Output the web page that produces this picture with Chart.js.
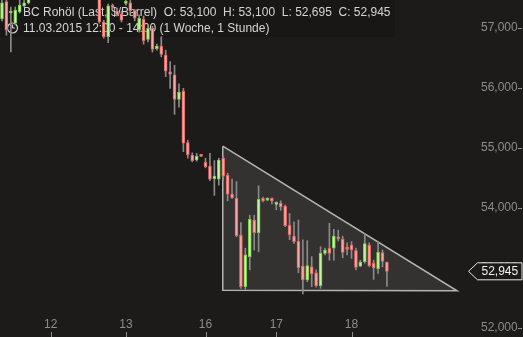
<!DOCTYPE html>
<html lang="de">
<head>
<meta charset="UTF-8">
<title>BC Rohöl Stundenchart</title>
<script src="https://cdn.jsdelivr.net/npm/chart.js"></script>
<style type="text/css">
html, body {
  margin: 0;
  padding: 0;
  background-color: #1c1b1a;
}
#wrap {
  width: 523px;
  height: 337px;
}
</style>
</head>
<body>
<div id="wrap"><canvas id="chart" width="523" height="337"></canvas></div>
<script>
// hourly candles, index 0 = leftmost visible candle (7..21 lie above the visible range)
const opens = [57.15, 57.44, 57.25, 57.08, 57.27, 57.37, 57.42,
  null, null, null, null, null, null, null, null, null, null, null, null, null, null, null,
  57.55, 57.10, 56.855, 57.37, 57.28, 57.23, 57.41, 57.42, 57.29, 56.97,
  57.145, 56.81, 56.995, 56.655, 56.70, 56.55, 56.27, 56.22, 55.81, 55.95,
  55.09, 54.88, 54.80, 54.865, 54.76, 54.70, 54.49, 54.48, 54.83, 54.55,
  54.23, 54.16, 53.55, 52.69, 53.19, 53.80, 53.59, 54.16, 54.13, 54.16,
  54.06, 54.08, 54.03, 53.71, 53.53, 53.45, 53.03, 52.80, 53.02, 52.92,
  52.705, 53.245, 53.33, 53.33, 53.51, 53.48, 53.31, 53.38, 53.29, 53.03,
  53.105, 53.38, 53.08, 52.99, 53.255, 53.10];
const highs = [57.47, 57.47, 57.35, 57.35, 57.47, 57.47, 57.55,
  null, null, null, null, null, null, null, null, null, null, null, null, null, null, null,
  57.60, 57.13, 57.40, 57.40, 57.33, 57.28, 57.46, 57.46, 57.31, 57.22,
  57.20, 57.05, 57.03, 56.73, 56.855, 56.63, 56.44, 56.38, 56.07, 55.995,
  55.13, 54.92, 54.91, 54.865, 54.83, 54.91, 54.79, 54.83, 54.85, 54.58,
  54.48, 54.44, 53.755, 53.33, 53.88, 53.88, 54.37, 54.18, 54.17, 54.17,
  54.105, 54.12, 54.05, 53.91, 53.77, 53.80, 53.47, 53.455, 53.19, 52.97,
  53.355, 53.33, 53.745, 53.645, 53.63, 53.53, 53.42, 53.44, 53.33, 53.13,
  53.58, 53.42, 53.13, 53.44, 53.30, 53.10];
const lows = [57.12, 56.88, 56.60, 57.05, 57.25, 57.35, 57.40,
  null, null, null, null, null, null, null, null, null, null, null, null, null, null, null,
  57.08, 56.83, 56.755, 57.32, 57.20, 57.10, 57.38, 57.25, 57.12, 56.93,
  56.73, 56.77, 56.60, 56.63, 56.52, 56.19, 55.995, 55.56, 55.68, 54.94,
  54.83, 54.77, 54.78, 54.86, 54.67, 54.455, 54.21, 54.38, 54.47, 54.12,
  54.16, 53.52, 52.66, 52.645, 52.97, 53.30, 53.27, 54.10, 54.12, 54.07,
  53.97, 53.96, 53.69, 53.47, 53.41, 52.92, 52.57, 52.77, 52.69, 52.68,
  52.66, 53.22, 53.13, 53.13, 53.45, 53.17, 53.22, 53.16, 52.97, 53.02,
  53.08, 53.02, 52.81, 52.91, 53.02, 52.695];
const closes = [57.42, 56.97, 57.28, 57.30, 57.38, 57.42, 57.50,
  null, null, null, null, null, null, null, null, null, null, null, null, null, null, null,
  57.10, 56.855, 57.37, 57.345, 57.22, 57.13, 57.44, 57.29, 57.17, 57.16,
  56.79, 56.995, 56.645, 56.70, 56.56, 56.28, 56.23, 55.81, 55.93, 55.08,
  54.89, 54.79, 54.86, 54.86, 54.69, 54.48, 54.53, 54.80, 54.53, 54.23,
  54.17, 53.54, 52.69, 53.22, 53.81, 53.59, 54.145, 54.12, 54.16, 54.12,
  54.09, 54.02, 53.705, 53.55, 53.44, 53.005, 52.80, 53.04, 52.90, 52.705,
  53.245, 53.30, 53.245, 53.53, 53.485, 53.26, 53.31, 53.30, 53.01, 53.10,
  53.405, 53.04, 53.00, 53.26, 53.11, 52.945];

// x axis: day labels sit on these candle indices
const dayTicks = [11, 28, 46, 62, 79];
const dayLabels = ['12', '13', '16', '17', '18'];
const priceTicks = [52, 53, 54, 55, 56, 57];

// descending triangle drawn on the chart (candle index, price)
const triangleX = [49.9, 49.9, 102.85, 49.9];
const triangleY = [55.03, 52.63, 52.62, 55.03];

const headerLine1 = 'BC Rohöl (Last, $/Barrel)  O: 53,100  H: 53,100  L: 52,695  C: 52,945';
const headerLine2 = '11.03.2015 12:00 - 14:00 (1 Woche, 1 Stunde)';

const fmt = v => v.toFixed(3).replace('.', ',');

const shown = opens.map((o, i) => i).filter(i => opens[i] !== null);
const wickData = shown.map(i => ({ x: i, y: [lows[i], highs[i]] }));
const bodyData = shown.map(i => ({ x: i, y: [Math.min(opens[i], closes[i]), Math.max(opens[i], closes[i])] }));
const bodyBorder = shown.map(i => closes[i] > opens[i] ? '#78cc44' : (closes[i] < opens[i] ? '#e2625f' : '#ec7456'));
const bodyFill = shown.map(i => closes[i] > opens[i] ? '#c6f2a4' : (closes[i] < opens[i] ? '#f6aaa8' : '#ec7456'));

const FONT = '"Liberation Sans", Arial, sans-serif';
Chart.defaults.font.family = FONT;
Chart.defaults.font.size = 12;

// no extra room for edge labels, the plot fills the canvas
const noPad = s => { s.paddingTop = 0; s.paddingBottom = 0; s.paddingLeft = 0; s.paddingRight = 0; };

const decor = {
  id: 'decor',
  beforeDatasetsDraw(chart) {
    const c = chart.ctx;
    c.save();
    c.fillStyle = 'rgba(0,0,0,0.13)';
    c.fillRect(0, 0, 395, 37);
    c.fillStyle = '#d4d4d4';
    c.font = '12px ' + FONT;
    c.textBaseline = 'middle';
    c.textAlign = 'left';
    c.fillText(headerLine1, 23, 13);
    c.fillText(headerLine2, 23, 28.5);
    // clock icon
    c.strokeStyle = '#d4d4d4';
    c.lineWidth = 1.2;
    c.beginPath();
    c.arc(12.5, 28, 5, 0, Math.PI * 2);
    c.stroke();
    c.beginPath();
    c.moveTo(12.5, 28); c.lineTo(12.5, 24.5);
    c.moveTo(12.5, 28); c.lineTo(15, 28);
    c.stroke();
    c.restore();
  },
  afterDraw(chart) {
    const c = chart.ctx;
    const xs = chart.scales.x, ys = chart.scales.y;
    c.save();
    c.strokeStyle = '#8c8c8c';
    c.lineWidth = 1;
    c.beginPath();
    priceTicks.forEach(v => {
      const y = Math.round(ys.getPixelForValue(v)) + 0.5;
      c.moveTo(518, y); c.lineTo(522, y);
    });
    dayTicks.forEach(v => {
      const x = Math.round(xs.getPixelForValue(v)) + 0.5;
      c.moveTo(x, 332); c.lineTo(x, 337);
    });
    c.stroke();

    // last price marker
    const last = closes[closes.length - 1];
    const y = ys.getPixelForValue(last);
    c.beginPath();
    c.moveTo(468.5, y);
    c.lineTo(477.5, y - 8.5);
    c.lineTo(522, y - 8.5);
    c.lineTo(522, y + 8.5);
    c.lineTo(477.5, y + 8.5);
    c.closePath();
    c.fillStyle = '#1c1b1a';
    c.fill();
    c.strokeStyle = '#e6e6e6';
    c.stroke();
    c.fillStyle = '#f2f2f2';
    c.font = '12px ' + FONT;
    c.textBaseline = 'middle';
    c.textAlign = 'left';
    c.fillText(fmt(last), 481.5, y + 0.5);
    c.restore();
  }
};

new Chart(document.getElementById('chart'), {
  type: 'bar',
  data: {
    datasets: [{
      type: 'line',
      data: triangleX.map((x, i) => ({ x: x, y: triangleY[i] })),
      borderColor: '#b4b4b4',
      borderWidth: 1.5,
      backgroundColor: 'rgba(255,255,255,0.1)',
      fill: 'shape',
      pointRadius: 0,
      tension: 0,
      order: 3
    }, {
      data: wickData,
      backgroundColor: '#8a8a8a',
      borderWidth: 0,
      barThickness: 1,
      stack: 'c',
      order: 2
    }, {
      data: bodyData,
      backgroundColor: bodyFill,
      borderColor: bodyBorder,
      borderWidth: 1,
      borderSkipped: false,
      barThickness: 3,
      minBarLength: 2,
      stack: 'c',
      order: 1
    }]
  },
  options: {
    responsive: false,
    animation: false,
    events: [],
    layout: { padding: 0 },
    plugins: { legend: { display: false }, tooltip: { enabled: false } },
    scales: {
      x: {
        type: 'linear',
        min: -0.45,
        max: 105.1,
        offset: false,
        grid: { display: false, drawTicks: false },
        border: { display: false },
        afterBuildTicks: s => { s.ticks = dayTicks.map(v => ({ value: v })); },
        afterFit: s => { s.height = 0; noPad(s); },
        ticks: {
          autoSkip: false,
          maxRotation: 0,
          mirror: true,
          padding: 5,
          color: '#8c8c8c',
          callback: (v, i) => dayLabels[i]
        }
      },
      y: {
        position: 'right',
        min: 51.85,
        max: 57.4667,
        stacked: false,
        grid: { display: false, drawTicks: false },
        border: { display: false },
        afterBuildTicks: s => { s.ticks = priceTicks.map(v => ({ value: v })); },
        afterFit: s => { s.width = 56; noPad(s); },
        ticks: {
          padding: 14,
          color: '#8c8c8c',
          callback: v => fmt(v)
        }
      }
    }
  },
  plugins: [decor]
});
</script>
</body>
</html>
